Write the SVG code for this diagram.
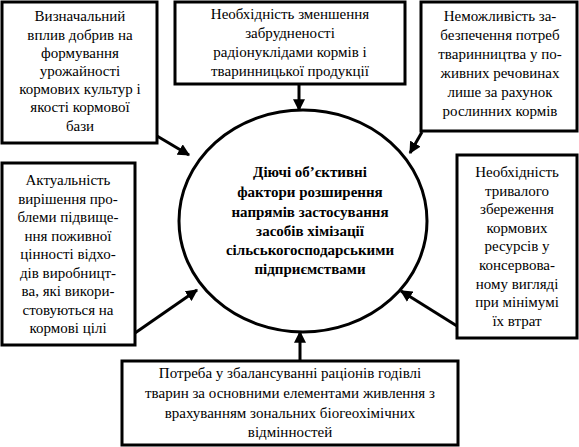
<svg xmlns="http://www.w3.org/2000/svg" width="579" height="447" viewBox="0 0 579 447">
<style>
.box{fill:#fff;stroke:#000;stroke-width:3}
.t{font-family:'Liberation Serif','DejaVu Serif',serif;font-size:15px;fill:#000;text-anchor:middle}
.b{font-weight:bold}
.c{stroke:#000;stroke-width:3;fill:none}
</style>
<defs>
<marker id="ah" viewBox="0 0 10 10" refX="9" refY="5" markerWidth="4" markerHeight="4" orient="auto" markerUnits="strokeWidth">
<path d="M0,0 L10,5 L0,10 z" fill="#000"/>
</marker>
</defs>
<rect width="579" height="447" fill="#fff"/>
<g id="center">
<ellipse cx="303" cy="221" rx="124" ry="111" class="box"/>
<text class="t b" font-family="Liberation Serif, serif"><tspan x="310" y="177">Діючі об’єктивні</tspan><tspan x="310" y="197">фактори розширення</tspan><tspan x="310" y="217">напрямів застосування</tspan><tspan x="310" y="236">засобів хімізації</tspan><tspan x="310" y="255">сільськогосподарськими</tspan><tspan x="310" y="274">підприємствами</tspan></text>
</g>
<g id="n1">
<rect x="2" y="2" width="155" height="141" class="box"/>
<text class="t"><tspan x="80" y="21">Визначальний</tspan><tspan x="80" y="40">вплив добрив на</tspan><tspan x="80" y="58">формування</tspan><tspan x="80" y="76">урожайності</tspan><tspan x="80" y="94">кормових культур і</tspan><tspan x="80" y="112">якості кормової</tspan><tspan x="80" y="131">бази</tspan></text>
</g>
<g id="n2">
<rect x="175" y="2" width="230" height="82" class="box"/>
<text class="t"><tspan x="290" y="19">Необхідність зменшення</tspan><tspan x="290" y="38">забрудненості</tspan><tspan x="290" y="57">радіонуклідами кормів і</tspan><tspan x="290" y="76">тваринницької продукції</tspan></text>
</g>
<g id="n3">
<rect x="421" y="2" width="156" height="129" class="box"/>
<text class="t"><tspan x="500" y="21">Неможливість за-</tspan><tspan x="500" y="40">безпечення потреб</tspan><tspan x="500" y="59">тваринництва у по-</tspan><tspan x="500" y="78">живних речовинах</tspan><tspan x="500" y="97">лише за рахунок</tspan><tspan x="500" y="116">рослинних кормів</tspan></text>
</g>
<g id="n4">
<rect x="2" y="163" width="133" height="182" class="box"/>
<text class="t"><tspan x="68" y="185">Актуальність</tspan><tspan x="68" y="204">вирішення про-</tspan><tspan x="68" y="222">блеми підвище-</tspan><tspan x="68" y="241">ння поживної</tspan><tspan x="68" y="259">цінності відхо-</tspan><tspan x="68" y="278">дів виробницт-</tspan><tspan x="68" y="296">ва, які викори-</tspan><tspan x="68" y="315">стовуються на</tspan><tspan x="68" y="333">кормові цілі</tspan></text>
</g>
<g id="n5">
<rect x="457" y="155" width="120" height="183" class="box"/>
<text class="t"><tspan x="517" y="177">Необхідність</tspan><tspan x="517" y="196">тривалого</tspan><tspan x="517" y="214">збереження</tspan><tspan x="517" y="233">кормових</tspan><tspan x="517" y="251">ресурсів у</tspan><tspan x="517" y="270">консервова-</tspan><tspan x="517" y="289">ному вигляді</tspan><tspan x="517" y="307">при мінімумі</tspan><tspan x="517" y="326">їх втрат</tspan></text>
</g>
<g id="n6">
<rect x="122" y="361" width="336" height="84" class="box"/>
<text class="t"><tspan x="290" y="378">Потреба у збалансуванні раціонів годівлі</tspan><tspan x="290" y="398">тварин за основними елементами живлення з</tspan><tspan x="290" y="418">врахуванням зональних біогеохімічних</tspan><tspan x="290" y="437">відмінностей</tspan></text>
</g>
<g id="connectors" class="c">
<line x1="299" y1="84" x2="299" y2="110" marker-end="url(#ah)"/>
<line x1="157" y1="136" x2="189" y2="155" marker-end="url(#ah)"/>
<line x1="422" y1="132" x2="410" y2="153" marker-end="url(#ah)"/>
<line x1="135" y1="333" x2="197" y2="290" marker-end="url(#ah)"/>
<line x1="457" y1="326" x2="401" y2="291" marker-end="url(#ah)"/>
<line x1="300" y1="361" x2="300" y2="332" marker-end="url(#ah)"/>
</g>
</svg>
